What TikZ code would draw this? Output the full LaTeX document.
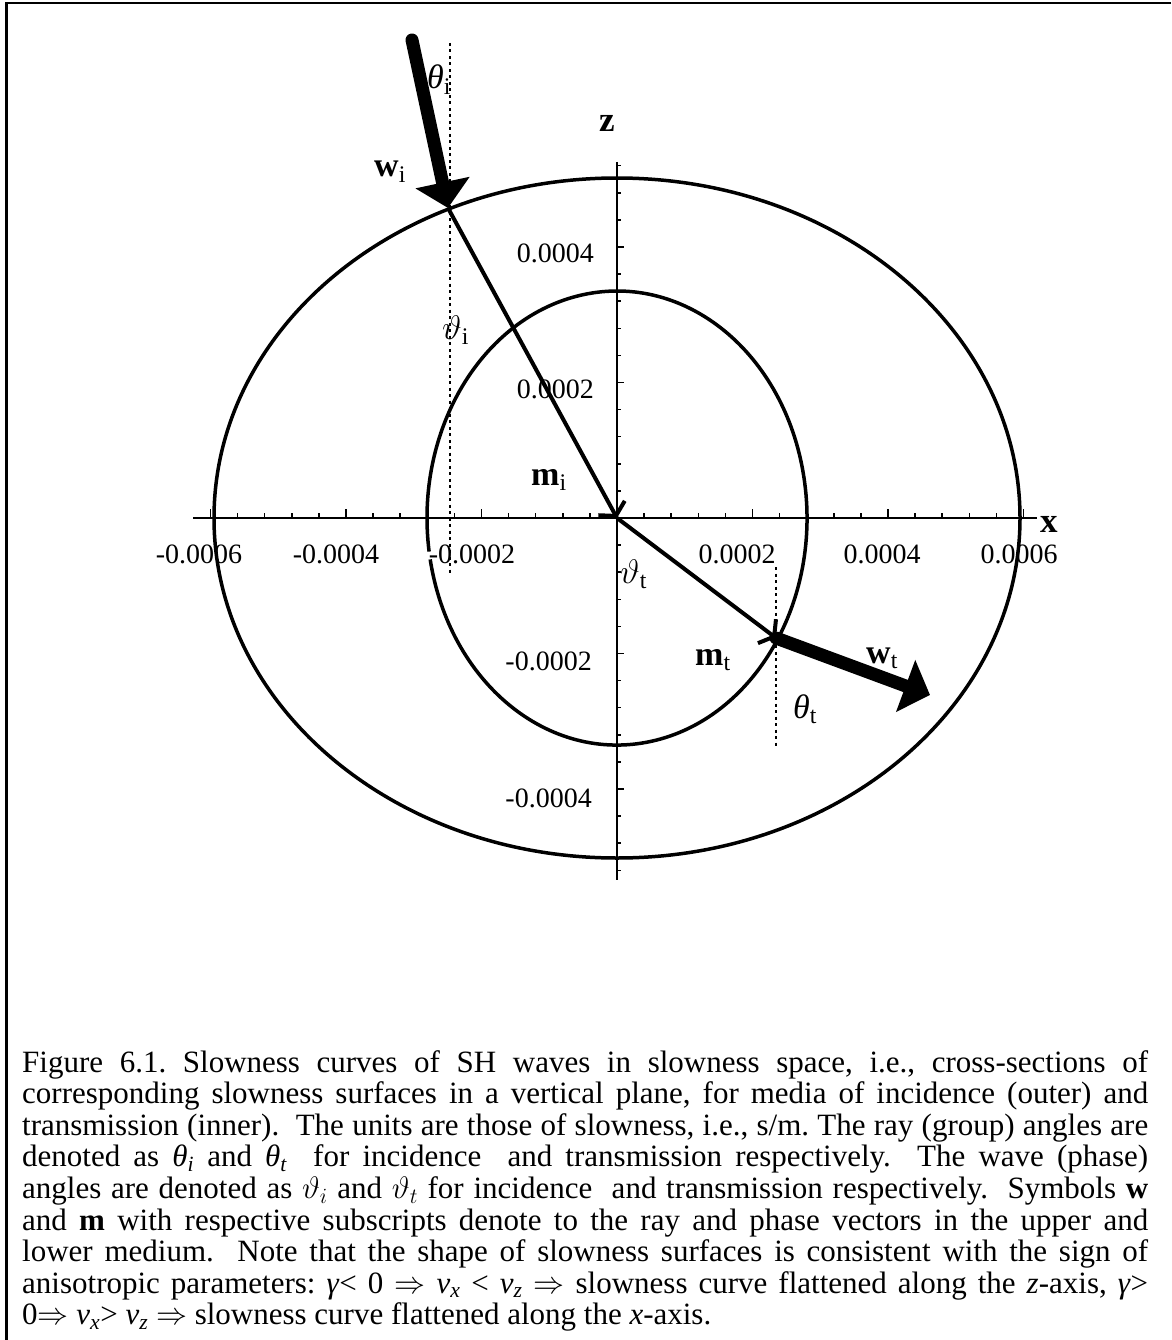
\RequirePackage{fix-cm}
\documentclass[tikz,border=0pt]{standalone}
\usepackage{fontspec}
\setmainfont{Liberation Serif}
\usetikzlibrary{arrows.meta}
\begin{document}
\begin{tikzpicture}[x=1pt,y=-1pt,
  borderline/.style={line width=2.5pt},
  curve/.style={line width=3.5pt},
  axisline/.style={line width=2.5pt},
  tickmark/.style={line width=1.5pt},
  guide/.style={line width=2.5pt,dash pattern=on 3pt off 3.5pt},
  phasevec/.style={line width=4pt,-{Straight Barb[length=9pt,width=30pt]}},
  rayvec/.style={line width=13pt,line cap=round,-{Triangle[length=26pt,width=54pt]}},
  numlabel/.style={font=\fontsize{28}{30}\selectfont,inner sep=0pt},
  veclabel/.style={font=\fontsize{34}{36}\selectfont,inner sep=0pt,anchor=base west},
  axlabel/.style={font=\fontsize{35}{36}\selectfont\bfseries,inner sep=0pt,anchor=base west},
  captext/.style={font=\fontsize{31}{32}\selectfont,inner sep=0pt,anchor=base west}
]
\useasboundingbox (0,0) rectangle (1171,1340);
\fill[white] (0,0) rectangle (1171,1340);
% frame
\draw[borderline] (1171,3) -- (6.3,3) -- (6.3,1340);

\coordinate (O) at (617,518);
\coordinate (Pi) at (448,208);
\coordinate (Pt) at (776,638);
\coordinate (Wi0) at (412,40);
\coordinate (Wt1) at (930,695);
\coordinate (xl) at (193,518);
\coordinate (xr) at (1037,518);
\coordinate (zt) at (617,162);
\coordinate (zb) at (617,880);

% axes
\draw[axisline] (xl) -- (xr);
\draw[axisline] (zt) -- (zb);
\foreach \k in {-15,...,15} \draw[tickmark] ({617+\k*27.1},518) -- ++(0,-5);
\foreach \k in {-15,-10,-5,5,10,15} \draw[tickmark] ({617+\k*27.1},518) -- ++(0,-9);
\foreach \k in {-13,...,13} \draw[tickmark] (617,{518-\k*27.1}) -- ++(4,0);
\foreach \k in {-10,-5,5,10} \draw[tickmark] (617,{518-\k*27.1}) -- ++(7,0);

% slowness curves
\draw[curve] (O) ellipse [x radius=403pt, y radius=340pt];
\draw[curve] (430.2,559.4) arc [start angle=190.5, end angle=548.5, x radius=190pt, y radius=227pt];

% guides
\draw[guide] (450,43) -- (450,575);
\draw[guide] (776,567) -- (776,747);

% vectors
\draw[phasevec] (Pi) -- (O);
\draw[phasevec] (O) -- (Pt);
\draw[rayvec] (Wi0) -- (Pi);
\draw[rayvec] (Pt) -- (Wt1);

% axis numbers
\node[numlabel,anchor=base] (xm6) at (199,563) {-0.0006};
\node[numlabel,anchor=base] (xm4) at (336,563) {-0.0004};
\node[numlabel,anchor=base] (xm2) at (472,563) {-0.0002};
\node[numlabel,anchor=base] (xp2) at (737,563) {0.0002};
\node[numlabel,anchor=base] (xp4) at (882,563) {0.0004};
\node[numlabel,anchor=base] (xp6) at (1019,563) {0.0006};
\node[numlabel,anchor=base east] (zp4) at (594,262) {0.0004};
\node[numlabel,anchor=base east] (zp2) at (594,398) {0.0002};
\node[numlabel,anchor=base east] (zm2) at (592,670) {-0.0002};
\node[numlabel,anchor=base east] (zm4) at (592,807) {-0.0004};

% labels
\node[axlabel] (zlab) at (599,132) {z};
\node[axlabel] (xlab) at (1040,532) {x};
\node[veclabel] (thi) at (427,89) {\textit{θ}\textsubscript{i}};
\node[veclabel] (wi) at (374,177) {\textbf{w}\textsubscript{i}};
\node[veclabel] (vti) at (442,339) {$\vartheta$\textsubscript{i}};
\node[veclabel] (mi) at (531,485) {\textbf{m}\textsubscript{i}};
\node[veclabel] (vtt) at (620,583) {$\vartheta$\textsubscript{t}};
\node[veclabel] (mt) at (695,665) {\textbf{m}\textsubscript{t}};
\node[veclabel] (wt) at (866,663) {\textbf{w}\textsubscript{t}};
\node[veclabel] (tht) at (793,718) {\textit{θ}\textsubscript{t}};

% caption
\begin{scope}[every node/.append style={execute at begin node=\frenchspacing}]
\node[captext] (c1) at (22,1072.0) {\makebox[1126pt][s]{Figure 6.1. Slowness curves of SH waves in slowness space, i.e., cross-sections of}};
\node[captext] (c2) at (22,1103.6) {\makebox[1126pt][s]{corresponding slowness surfaces in a vertical plane, for media of incidence (outer) and}};
\node[captext] (c3) at (22,1135.2) {\makebox[1126pt][s]{transmission (inner).\ \ The units are those of slowness, i.e., s/m. The ray (group) angles are}};
\node[captext] (c4) at (22,1166.8) {\makebox[1126pt][s]{denoted as \textit{θ\textsubscript{i}} and \textit{θ\textsubscript{t}}\ \ for incidence\ \ and transmission respectively.\ \ The wave (phase)}};
\node[captext] (c5) at (22,1198.4) {\makebox[1126pt][s]{angles are denoted as $\vartheta_i$ and $\vartheta_t$ for incidence\ \ and transmission respectively.\ \ Symbols \textbf{w}}};
\node[captext] (c6) at (22,1230.0) {\makebox[1126pt][s]{and \textbf{m} with respective subscripts denote to the ray and phase vectors in the upper and}};
\node[captext] (c7) at (22,1261.6) {\makebox[1126pt][s]{lower medium.\ \ Note that the shape of slowness surfaces is consistent with the sign of}};
\node[captext] (c8) at (22,1293.2) {\makebox[1126pt][s]{anisotropic parameters: \textit{γ}< 0 $\Rightarrow$ \textit{v\textsubscript{x}} < \textit{v\textsubscript{z}} $\Rightarrow$ slowness curve flattened along the \textit{z}-axis, \textit{γ}>}};
\node[captext] (c9) at (22,1324.8) {0$\Rightarrow$ \textit{v\textsubscript{x}}> \textit{v\textsubscript{z}} $\Rightarrow$ slowness curve flattened along the \textit{x}-axis.};
\end{scope}
\end{tikzpicture}
\end{document}
